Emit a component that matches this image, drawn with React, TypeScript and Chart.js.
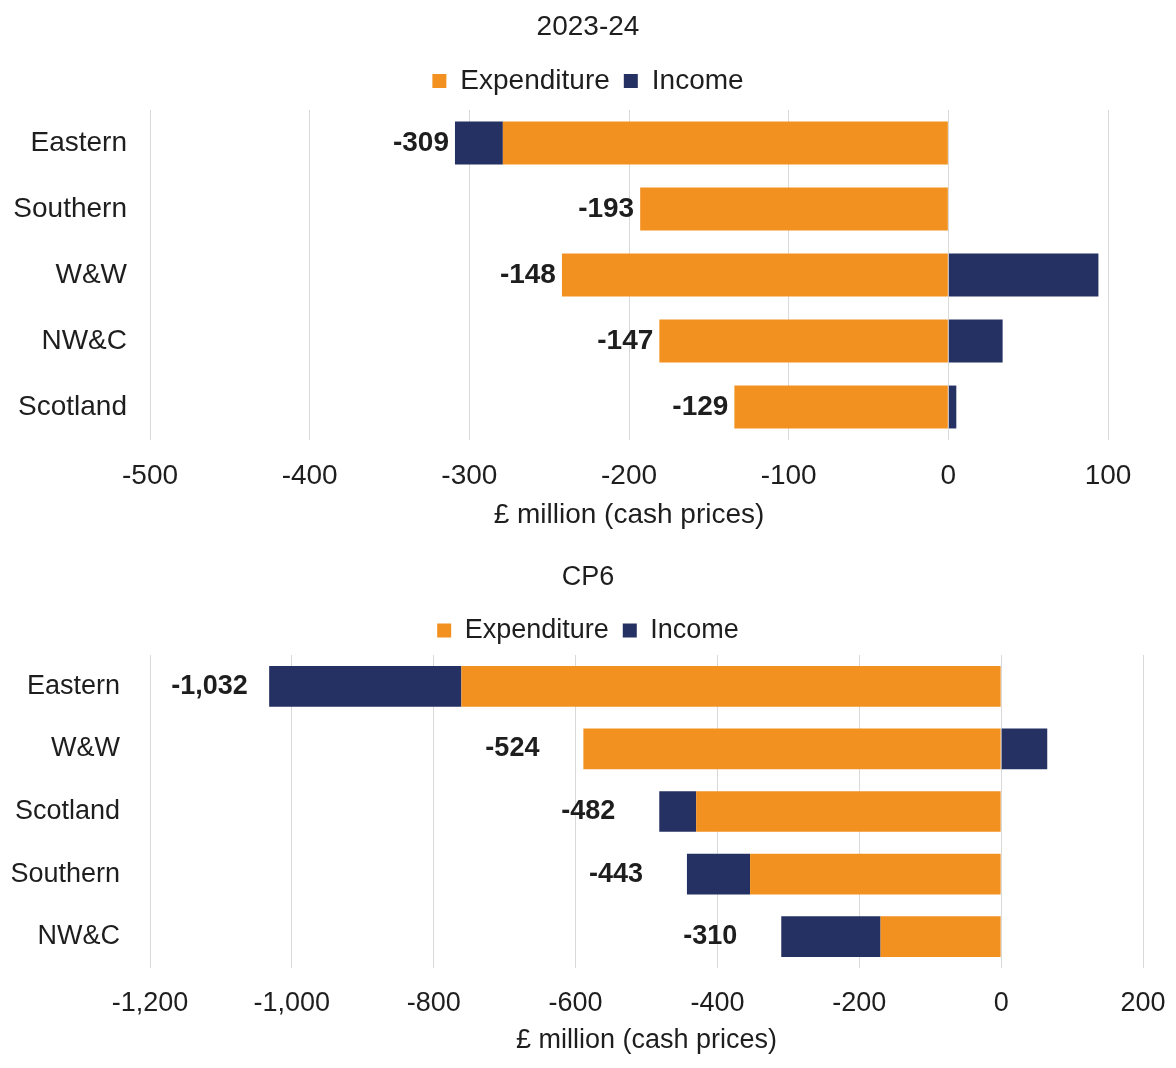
import React, { useEffect, useRef } from 'react';
import { Chart, registerables } from 'chart.js';

Chart.register(...registerables);

// ---------- Data ----------
const regions2023 = ['Eastern', 'Southern', 'W&W', 'NW&C', 'Scotland'];
const expenditure2023 = [-279, -193, -242, -181, -134];
const income2023 = [-30, 0, 94, 34, 5];
const axis2023 = { min: -500, max: 100, step: 100 };

const regionsCP6 = ['Eastern', 'W&W', 'Scotland', 'Southern', 'NW&C'];
const expenditureCP6 = [-761, -589, -430, -354, -170];
const incomeCP6 = [-271, 65, -52, -89, -140];
const axisCP6 = { min: -1200, max: 200, step: 200 };

const seriesNames = ['Expenditure', 'Income'];
const axisTitle = '£ million (cash prices)';

// ---------- Styles ----------
const FONT = 'Arial, "Liberation Sans", Helvetica, sans-serif';
const ORANGE = '#F29120';
const NAVY = '#263163';
const TEXT = '#1e1e1e';
const GRID = '#d9d9d9';

type PanelProps = {
  title: string;
  regions: string[];
  expenditure: number[];
  income: number[];
  axis: { min: number; max: number; step: number };
  height: number;
  fontSize: number;
  rightGap: number;
  padBottom: number;
  titlePadTop: number;
  titlePadBottom: number;
  legendExtra: number;
  yTickPad: number;
  xTickPad: number;
  xAxisHeight: number;
  labelAlign: CanvasTextAlign;
  labelOffset: number;
};

function Panel(p: PanelProps) {
  const ref = useRef<HTMLCanvasElement | null>(null);

  useEffect(() => {
    if (!ref.current) return;
    const font = { family: FONT, size: p.fontSize };

    const legendPad = {
      id: 'legendPad',
      beforeLayout(chart: any) {
        const lg = chart.legend;
        if (lg && !lg.__patched) {
          const orig = lg.fit.bind(lg);
          lg.fit = function () {
            orig();
            this.height += p.legendExtra;
          };
          lg.__patched = true;
        }
      },
    };

    const totals = {
      id: 'totals',
      afterDatasetsDraw(chart: any) {
        const { ctx, scales } = chart;
        const xs = scales.x;
        const ys = scales.y;
        const ds = chart.data.datasets;
        ctx.save();
        ctx.font = `bold ${p.fontSize}px ${FONT}`;
        ctx.fillStyle = TEXT;
        ctx.textBaseline = 'middle';
        ctx.textAlign = p.labelAlign;
        chart.data.labels.forEach((_: any, i: number) => {
          const vals: number[] = ds.map((d: any) => d.data[i] as number);
          const total = vals.reduce((a, b) => a + b, 0);
          const neg = vals.filter((v) => v < 0).reduce((a, b) => a + b, 0);
          const px = xs.getPixelForValue(neg) + p.labelOffset;
          const py = ys.getPixelForValue(i);
          ctx.fillText(total.toLocaleString('en-GB'), px, py);
        });
        ctx.restore();
      },
    };

    const chart = new Chart(ref.current, {
      type: 'bar',
      data: {
        labels: p.regions,
        datasets: [
          {
            label: seriesNames[0],
            data: p.expenditure,
            backgroundColor: ORANGE,
            borderWidth: 0,
            barPercentage: 0.65,
            categoryPercentage: 1,
          },
          {
            label: seriesNames[1],
            data: p.income,
            backgroundColor: NAVY,
            borderWidth: 0,
            barPercentage: 0.65,
            categoryPercentage: 1,
          },
        ],
      },
      options: {
        responsive: false,
        animation: false,
        indexAxis: 'y',
        layout: { padding: { left: 0, right: 0, top: 0, bottom: p.padBottom } },
        plugins: {
          title: {
            display: true,
            text: p.title,
            color: TEXT,
            font: { family: FONT, size: p.fontSize, weight: 'normal', lineHeight: 1 },
            padding: { top: p.titlePadTop, bottom: p.titlePadBottom },
          },
          legend: {
            display: true,
            position: 'top',
            labels: {
              boxWidth: 14,
              boxHeight: 14,
              padding: 14,
              color: TEXT,
              font,
            },
          },
          tooltip: { enabled: false },
        },
        scales: {
          x: {
            stacked: true,
            min: p.axis.min,
            max: p.axis.max,
            ticks: {
              stepSize: p.axis.step,
              color: TEXT,
              padding: p.xTickPad,
              font,
              maxRotation: 0,
              autoSkip: false,
            },
            grid: { color: GRID, lineWidth: 1, drawTicks: false },
            border: { display: false },
            title: {
              display: true,
              text: axisTitle,
              color: TEXT,
              font,
              padding: { top: 0, bottom: 0 },
            },
            afterFit: (s: any) => {
              s.height = p.xAxisHeight;
              s.paddingLeft = 0;
              s.paddingRight = 0;
            },
          },
          y: {
            stacked: true,
            ticks: { color: TEXT, padding: p.yTickPad, font },
            grid: { display: false, drawTicks: false },
            border: { display: false },
            afterFit: (s: any) => {
              s.width = 150;
            },
          },
          yGap: {
            type: 'category',
            position: 'right',
            display: true,
            ticks: { display: false },
            grid: { display: false, drawTicks: false },
            border: { display: false },
            afterFit: (s: any) => {
              s.width = p.rightGap;
            },
          },
        },
      } as any,
      plugins: [legendPad, totals],
    });
    return () => chart.destroy();
  }, []);

  return (
    <canvas
      ref={ref}
      width={1176}
      height={p.height}
      style={{ display: 'block', width: 1176, height: p.height }}
    />
  );
}

export default function App() {
  return (
    <div style={{ position: 'absolute', left: 0, top: 0, width: 1176, height: 1068, background: '#fff' }}>
      <Panel
        title="2023-24"
        regions={regions2023}
        expenditure={expenditure2023}
        income={income2023}
        axis={axis2023}
        height={545}
        fontSize={28}
        rightGap={68}
        padBottom={13}
        titlePadTop={13}
        titlePadBottom={12}
        legendExtra={5}
        yTickPad={23}
        xTickPad={19}
        xAxisHeight={92}
        labelAlign="right"
        labelOffset={-6}
      />
      <Panel
        title="CP6"
        regions={regionsCP6}
        expenditure={expenditureCP6}
        income={incomeCP6}
        axis={axisCP6}
        height={523}
        fontSize={27}
        rightGap={33}
        padBottom={11}
        titlePadTop={19}
        titlePadBottom={12}
        legendExtra={1}
        yTickPad={30}
        xTickPad={19}
        xAxisHeight={89}
        labelAlign="left"
        labelOffset={-98}
      />
    </div>
  );
}
